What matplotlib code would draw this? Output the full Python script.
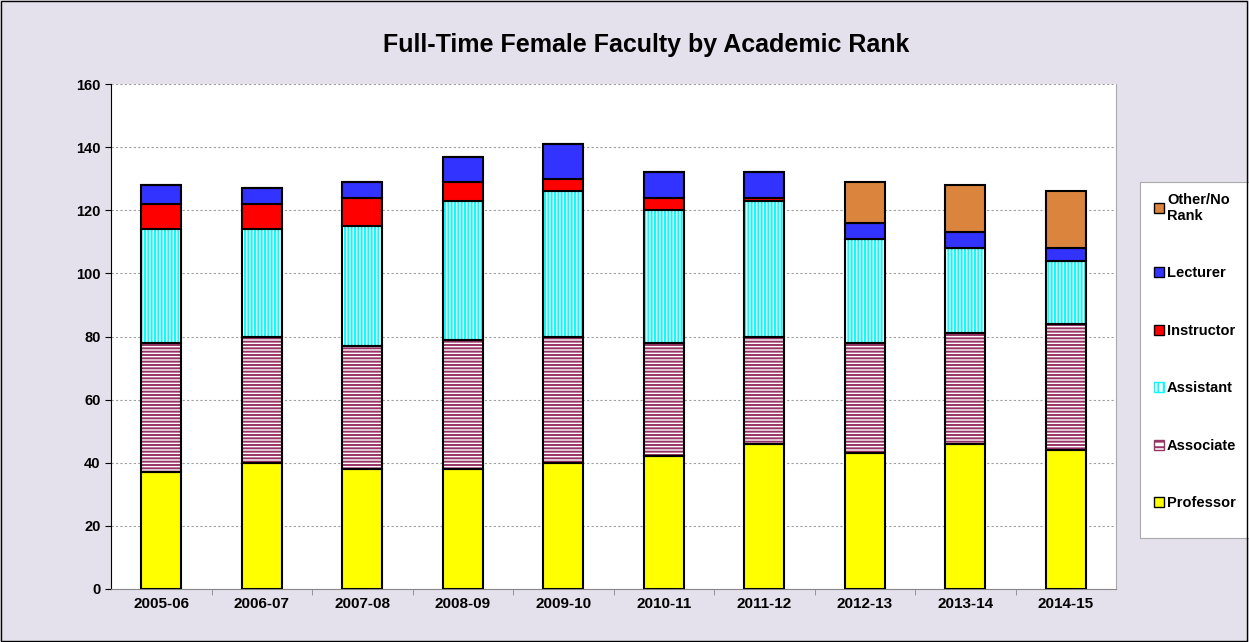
import matplotlib.pyplot as plt
import numpy as np

# --- data ---
years = ['2005-06', '2006-07', '2007-08', '2008-09', '2009-10',
         '2010-11', '2011-12', '2012-13', '2013-14', '2014-15']
professor = [37, 40, 38, 38, 40, 42, 46, 43, 46, 44]
associate = [41, 40, 39, 41, 40, 36, 34, 35, 35, 40]
assistant = [36, 34, 38, 44, 46, 42, 43, 33, 27, 20]
instructor = [8, 8, 9, 6, 4, 4, 1, 0, 0, 0]
lecturer = [6, 5, 5, 8, 11, 8, 8, 5, 5, 4]
other = [0, 0, 0, 0, 0, 0, 0, 13, 15, 18]

plt.rcParams['font.family'] = ['Liberation Sans', 'DejaVu Sans']
plt.rcParams['hatch.linewidth'] = 1.4

bg = '#E4E0EC'
fig = plt.figure(figsize=(12.49, 6.42), dpi=100, facecolor=bg)
ax = fig.add_axes([111 / 1249, 1 - 589 / 642, (1116 - 111) / 1249, (589 - 84) / 642])
ax.set_facecolor('white')

x = np.arange(len(years))
w = 0.4
bottom = np.zeros(len(years))

# series: (values, fill, hatch, hatch colour, label)
series = [
    (professor, '#FFFF00', None, None, 'Professor'),
    (associate, 'white', '-----', '#993366', 'Associate'),
    (assistant, 'white', '|||||', '#00FFFF', 'Assistant'),
    (instructor, '#FF0000', None, None, 'Instructor'),
    (lecturer, '#3333FF', None, None, 'Lecturer'),
    (other, '#DB843D', None, None, 'Other/No\nRank'),
]

handles = []
for vals, fc, hatch, hc, lab in series:
    vals = np.array(vals, dtype=float)
    if hatch:
        ax.bar(x, vals, w, bottom=bottom, color=fc, edgecolor=hc, hatch=hatch,
               linewidth=0, zorder=3)
    ax.bar(x, vals, w, bottom=bottom, facecolor=fc if not hatch else 'none',
           edgecolor='black', linewidth=1.5, zorder=4)
    if hatch:
        h = plt.Rectangle((0, 0), 1, 1, facecolor='white', edgecolor=hc, linewidth=1,
                          hatch=('---' if hatch == '-----' else '|||'))
    else:
        h = plt.Rectangle((0, 0), 1, 1, facecolor=fc, edgecolor='black', linewidth=1)
    handles.append(h)
    bottom += vals

ax.set_ylim(0, 160)
ax.set_xlim(-0.5, len(years) - 0.5)
ax.set_yticks(np.arange(0, 161, 20))
ax.set_xticks(x)
ax.set_xticklabels(years, fontsize=11, fontweight='bold')
ax.set_xticks(np.arange(0.5, len(years) - 0.5, 1), minor=True)
ax.tick_params(axis='x', which='major', length=0, pad=6)
ax.tick_params(axis='x', which='minor', length=4, direction='out', color='#888888')
ax.tick_params(axis='y', length=4, direction='out', labelsize=10.5)
for lab in ax.get_yticklabels():
    lab.set_fontweight('bold')
ax.grid(axis='y', linestyle=(0, (2, 2)), color='#A0A0A0', linewidth=0.8, zorder=0)
ax.set_axisbelow(True)
ax.spines['left'].set_color('black')
ax.spines['bottom'].set_color('#888888')
ax.spines['top'].set_visible(False)
ax.spines['right'].set_color('#AAAAAA')

fig.text(646 / 1249, 1 - 45 / 642, 'Full-Time Female Faculty by Academic Rank',
         ha='center', va='center', fontsize=18, fontweight='bold')

# legend box drawn separately
fig.patches.append(plt.Rectangle((1140 / 1249, 1 - 538 / 642), 120 / 1249, 356 / 642,
                                 transform=fig.transFigure, facecolor='white',
                                 edgecolor='#AAAAAA', linewidth=0.8, zorder=1))
leg = fig.legend(handles[::-1], [s[4] for s in series][::-1],
                 loc='upper left', bbox_to_anchor=(1148 / 1249, 1 - 187 / 642),
                 frameon=False,
                 prop={'weight': 'bold', 'size': 10.5}, labelspacing=2.98,
                 handlelength=0.7, handleheight=0.7, handletextpad=0.2,
                 borderpad=0.4, borderaxespad=0)

# outer border
fig.patches.append(plt.Rectangle((0.0005, 0.001), 0.998, 0.998, transform=fig.transFigure,
                                 fill=False, edgecolor='black', linewidth=1, zorder=5))

plt.savefig('out.png', dpi=100, facecolor=bg)
